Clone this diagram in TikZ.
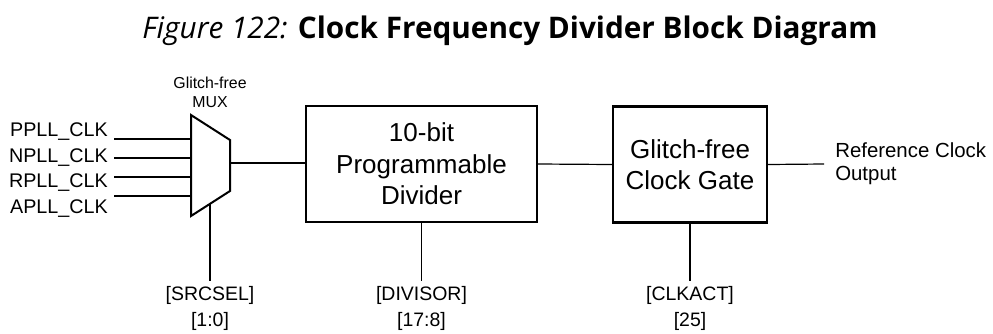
\documentclass[tikz,border=0pt]{standalone}
\usepackage{fontspec}
\setmainfont{Liberation Sans}
\newfontfamily\titlefont{Open Sans}
\usetikzlibrary{positioning}

\tikzset{
  blk/.style={draw, line width=1.7pt, align=center, inner sep=0pt,
    font=\fontsize{19.5}{23.5}\selectfont},
  lbl/.style={align=center, inner sep=0pt, outer sep=4pt,
    font=\fontsize{14.6}{20}\selectfont},
  wire/.style={line width=0.9pt},
}

\begin{document}
\begin{tikzpicture}[x=0.75pt, y=-0.75pt]
	\useasboundingbox (0,0) rectangle (993,333);
	% Title
	\node[anchor=base, font=\titlefont\fontsize{22.3}{26}\selectfont] (title) at (510,38)
		{\textit{Figure 122:} \textbf{Clock Frequency Divider Block Diagram}};
	% Mux
	\coordinate (mux-tl) at (191,115);
	\coordinate (mux-tr) at (230,140);
	\coordinate (mux-br) at (230,191);
	\coordinate (mux-bl) at (191,216);
	\draw[line width=1.5pt] (mux-tl) -- (mux-tr) -- (mux-br) -- (mux-bl) -- cycle;
	\node[align=center, font=\fontsize{11.9}{14.25}\selectfont] (muxlbl) at (210,92.5) {Glitch-free\\MUX};
	% Clock inputs
	\foreach \src/\ly/\wy in {PPLL/136/139, NPLL/162/158, RPLL/187/177, APLL/213/196} {
		\node[anchor=base east, inner sep=0pt, font=\fontsize{14.8}{17}\selectfont] (\src) at (108,\ly) {\src\_CLK};
		\coordinate (\src-in) at (114,\wy);
		\draw[wire] (\src-in) -- (\src-in -| mux-tl);
	}
	% Blocks
	\node[blk, minimum width=173.25pt, minimum height=87pt] (div) at (421.5,164) {10-bit\\Programmable\\Divider};
	\node[blk, minimum width=115.5pt, minimum height=87pt] (gate) at (690,164.5) {Glitch-free\\Clock Gate};
	% Data path
	\coordinate (mux-out) at (230,163);
	\draw[wire] (mux-out) -- (mux-out -| div.west);
	\draw[wire] (div.east) -- (gate.west);
	\coordinate (ref-out) at (824,164);
	\draw[wire] (gate.east) -- (ref-out);
	\node[anchor=west, align=left, inner sep=0pt, font=\fontsize{15.3}{17.25}\selectfont] (reflbl) at (835,163.5)
		{Reference Clock\\Output};
	% Control fields
	\coordinate (mux-sel) at (210,204);
	\node[lbl] (srcsel) at (210,308.5) {[SRCSEL]\\{[1:0]}};
	\node[lbl] (divisor) at (421.5,308.5) {[DIVISOR]\\{[17:8]}};
	\node[lbl] (clkact) at (690,308.5) {[CLKACT]\\{[25]}};
	\draw[wire] (mux-sel) -- (srcsel.north);
	\draw[wire] (div.south) -- (divisor.north);
	\draw[wire] (gate.south) -- (clkact.north);
\end{tikzpicture}
\end{document}
